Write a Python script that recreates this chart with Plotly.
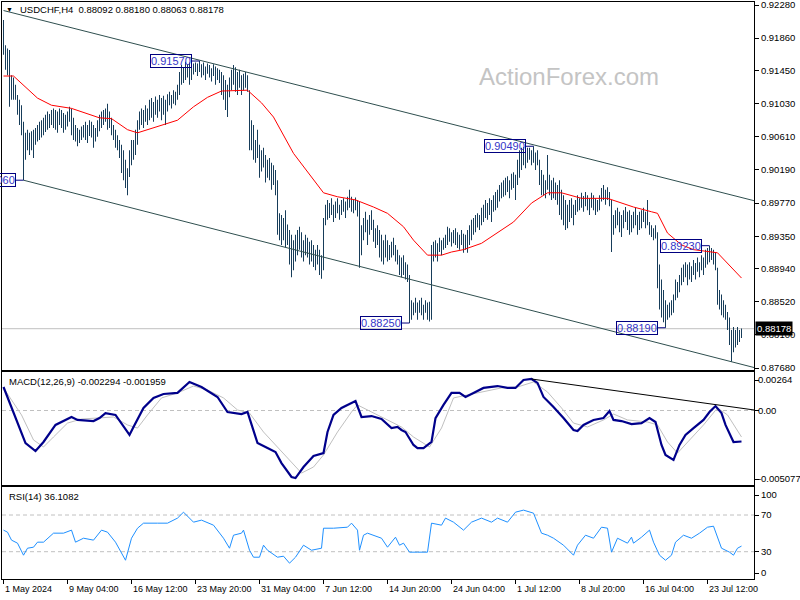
import plotly.graph_objects as go

# ---------------- data ----------------
# H4 bars (prices in pips, 1 pip = 0.0001), index 0 = 1 May 20:00
HIGH_PIPS = [
    9209,9177,9173,9171,9139,9136,9127,9114,9108,9101,
    9080,9066,9070,9066,9068,9070,9072,9076,9080,9082,
    9085,9089,9093,9090,9095,9097,9095,9093,9097,9095,
    9091,9089,9093,9099,9097,9085,9076,9072,9070,9074,
    9076,9080,9076,9082,9080,9076,9072,9082,9089,9093,
    9095,9097,9103,9093,9085,9076,9070,9063,9057,9051,
    9044,9032,9021,9044,9057,9057,9070,9082,9093,9097,
    9095,9101,9097,9108,9110,9105,9112,9108,9114,9110,
    9113,9108,9115,9118,9114,9120,9118,9127,9143,9152,
    9149,9156,9153,9155,9154,9154,9155,9154,9157,9153,
    9155,9150,9154,9152,9148,9153,9150,9148,9146,9143,
    9139,9133,9127,9136,9146,9152,9149,9143,9146,9139,
    9141,9143,9139,9120,9082,9076,9057,9070,9051,9044,
    9047,9038,9032,9034,9028,9025,9019,9006,8964,8962,
    8958,8968,8950,8943,8937,8930,8937,8943,8947,8940,
    8930,8937,8933,8928,8930,8924,8918,8924,8918,8911,
    8958,8975,8981,8977,8983,8975,8979,8983,8975,8981,
    8983,8979,8985,8994,8985,8981,8984,8981,8979,8949,
    8958,8966,8956,8962,8968,8956,8945,8949,8943,8937,
    8930,8937,8930,8924,8928,8933,8924,8918,8911,8908,
    8911,8902,8899,8886,8854,8851,8857,8851,8854,8857,
    8848,8854,8851,8852,8924,8928,8930,8926,8933,8930,
    8933,8937,8947,8945,8940,8943,8945,8940,8937,8943,
    8938,8937,8943,8949,8956,8958,8962,8964,8962,8971,
    8975,8981,8977,8983,8981,8987,8991,8994,9000,9003,
    9006,9009,9011,9006,9014,9016,9013,9032,9044,9047,
    9048,9044,9047,9047,9044,9049,9041,9044,9032,9019,
    9013,9006,9038,9013,9006,9009,9003,9000,9006,8994,
    8987,8981,8975,8981,8983,8975,8981,8987,8983,8990,
    8986,8991,8987,8983,8990,8987,8983,8981,8987,8996,
    9000,8994,8997,8991,8981,8962,8968,8971,8966,8962,
    8968,8972,8966,8968,8962,8966,8971,8962,8966,8968,
    8971,8966,8981,8953,8949,8945,8949,8940,8899,8880,
    8867,8854,8848,8851,8854,8861,8880,8877,8886,8895,
    8899,8902,8899,8902,8897,8905,8901,8908,8902,8911,
    8908,8918,8920,8923,8920,8918,8915,8895,8867,8861,
    8854,8848,8839,8832,8816,8820,8816,8820,8816,8818,
]
LOW_PIPS = [
    9165,9146,9139,9099,9108,9108,9108,9089,9076,9063,
    9006,9032,9044,9038,9044,9034,9051,9055,9057,9060,
    9063,9067,9070,9072,9076,9072,9070,9066,9076,9072,
    9066,9070,9074,9080,9063,9057,9055,9049,9053,9057,
    9060,9057,9053,9062,9060,9047,9055,9061,9068,9072,
    9076,9080,9070,9072,9063,9057,9047,9044,9034,9015,
    9006,8996,8987,9010,9025,9032,9038,9051,9070,9076,
    9072,9080,9076,9082,9085,9080,9089,9085,9093,9082,
    9089,9076,9093,9101,9097,9103,9101,9108,9114,9127,
    9129,9133,9136,9127,9133,9140,9143,9138,9143,9136,
    9139,9133,9141,9136,9131,9138,9127,9133,9129,9114,
    9108,9095,9086,9111,9120,9127,9118,9114,9123,9114,
    9120,9123,9118,9044,9044,9032,9028,9034,9009,9017,
    9022,9003,9009,9006,8994,9000,8987,8937,8930,8924,
    8930,8921,8924,8899,8883,8892,8903,8911,8918,8908,
    8903,8911,8908,8899,8903,8896,8892,8899,8886,8881,
    8892,8949,8956,8958,8962,8953,8958,8964,8956,8962,
    8966,8958,8968,8971,8966,8964,8968,8960,8895,8911,
    8930,8940,8924,8937,8943,8928,8920,8924,8908,8903,
    8899,8908,8903,8905,8908,8911,8903,8899,8886,8883,
    8886,8880,8877,8825,8829,8835,8838,8829,8838,8835,
    8829,8838,8829,8827,8829,8903,8908,8903,8915,8911,
    8918,8920,8924,8928,8922,8926,8924,8920,8918,8924,
    8914,8918,8914,8924,8930,8937,8940,8946,8943,8949,
    8953,8958,8956,8962,8953,8966,8968,8971,8979,8983,
    8985,8987,8991,8983,8994,8996,8981,9000,9009,9019,
    9025,9021,9028,9032,9025,9028,9019,9025,9000,8987,
    8987,8983,8994,8987,8981,8983,8981,8975,8962,8956,
    8949,8943,8945,8953,8958,8949,8962,8966,8968,8971,
    8966,8973,8968,8962,8971,8968,8962,8966,8968,8979,
    8981,8975,8981,8973,8915,8937,8945,8949,8940,8934,
    8945,8953,8943,8937,8940,8945,8949,8937,8943,8945,
    8953,8945,8949,8937,8934,8930,8932,8869,8842,8832,
    8826,8819,8829,8832,8835,8838,8854,8857,8864,8873,
    8877,8883,8873,8880,8877,8886,8880,8890,8883,8892,
    8886,8895,8899,8902,8905,8899,8892,8848,8842,8835,
    8832,8829,8816,8797,8776,8788,8794,8797,8801,8806,
]

# moving average (red), read at sample bars
MA_I = [0, 5, 17, 24, 34, 48, 54, 62, 67, 72, 79, 87, 95, 102, 109, 122, 129, 135,
        145, 155, 160, 167, 176, 185, 192, 200, 205, 212, 219, 224, 230, 239, 247,
        255, 264, 272, 279, 289, 302, 309, 315, 324, 327, 332, 339, 345, 357, 369]
MA_PIPS = [9138, 9138, 9110, 9101, 9097, 9085, 9084, 9070, 9066, 9070, 9076, 9082, 9099,
           9111, 9119, 9120, 9104, 9086, 9040, 9006, 8990, 8985, 8981, 8972, 8964, 8947,
           8930, 8911, 8911, 8915, 8918, 8926, 8939, 8953, 8977, 8990, 8990, 8983, 8983,
           8977, 8972, 8966, 8964, 8939, 8924, 8918, 8914, 8882]

# MACD(12,26,9) main line
MACD_I = [0, 5, 11, 16, 20, 26, 34, 37, 45, 48, 51, 56, 63, 65, 70, 75, 80, 87, 93, 99,
          107, 112, 119, 122, 127, 132, 136, 139, 144, 146, 150, 155, 160, 162, 165, 169,
          173, 176, 179, 184, 189, 194, 197, 199, 201, 205, 207, 210, 214, 216, 220, 224,
          228, 231, 235, 240, 247, 252, 256, 260, 264, 267, 270, 275, 280, 285, 287, 290,
          295, 300, 303, 305, 309, 314, 319, 323, 326, 329, 331, 335, 338, 341, 345, 350,
          353, 356, 359, 361, 365, 369]
MACD_V = [0.00174, -0.00011, -0.00241, -0.00300, -0.00233, -0.00107, -0.00048, -0.00070,
          -0.00078, -0.00056, -0.00019, -0.00033, -0.00181, -0.00122, 0.00019, 0.00093,
          0.00122, 0.00130, 0.00211, 0.00174, 0.00100, -0.00011, -0.00026, -0.00011,
          -0.00241, -0.00278, -0.00307, -0.00389, -0.00492, -0.00500, -0.00418, -0.00337,
          -0.00315, -0.00159, -0.00033, 0.00019, 0.00048, 0.00070, -0.00048, -0.00041,
          -0.00063, -0.00130, -0.00122, -0.00144, -0.00159, -0.00255, -0.00278, -0.00278,
          -0.00233, -0.00056, 0.00041, 0.00130, 0.00130, 0.00100, 0.00130, 0.00167,
          0.00181, 0.00167, 0.00167, 0.00226, 0.00233, 0.00204, 0.00100, 0.00026,
          -0.00056, -0.00144, -0.00152, -0.00107, -0.00070, -0.00056, -0.00004, -0.00070,
          -0.00078, -0.00100, -0.00093, -0.00056, -0.00085, -0.00255, -0.00329, -0.00366,
          -0.00255, -0.00181, -0.00130, -0.00070, -0.00011, 0.00033, -0.00019, -0.00107,
          -0.00233, -0.002294]

# MACD signal line
SIG_I = [0, 9, 15, 20, 25, 32, 39, 49, 55, 62, 67, 72, 79, 87, 95, 102, 110, 117, 123,
         130, 137, 144, 149, 155, 160, 167, 174, 177, 182, 190, 197, 199, 205, 213, 219,
         225, 232, 239, 249, 257, 265, 272, 279, 285, 292, 300, 305, 312, 322, 327, 332,
         337, 344, 350, 357, 362, 369]
SIG_V = [0.00167, -0.00033, -0.00218, -0.00270, -0.00196, -0.00093, -0.00063, -0.00056,
         -0.00048, -0.00107, -0.00130, -0.00033, 0.00093, 0.00130, 0.00181, 0.00152,
         0.00093, 0.00004, -0.00019, -0.00159, -0.00270, -0.00381, -0.00463, -0.00418,
         -0.00329, -0.00159, -0.00011, 0.00041, 0.00004, -0.00056, -0.00107, -0.00122,
         -0.00196, -0.00270, -0.00130, 0.00093, 0.00115, 0.00137, 0.00167, 0.00174,
         0.00211, 0.00137, 0.00019, -0.00093, -0.00122, -0.00070, -0.00026, -0.00070,
         -0.00085, -0.00107, -0.00233, -0.00315, -0.00204, -0.00107, 0.00019, -0.00033,
         -0.001959]

# RSI(14)
RSI_I = [0, 2, 4, 7, 10, 12, 15, 17, 20, 25, 30, 34, 36, 40, 45, 49, 52, 56, 61, 64, 67,
         70, 77, 82, 87, 90, 95, 99, 105, 110, 113, 115, 119, 120, 123, 125, 128, 130,
         132, 137, 140, 143, 146, 150, 154, 159, 160, 165, 172, 174, 177, 178, 180, 182,
         189, 192, 196, 198, 200, 203, 207, 212, 214, 219, 221, 225, 230, 234, 239, 244,
         247, 252, 256, 260, 265, 269, 272, 275, 280, 285, 287, 291, 295, 299, 302, 304,
         307, 312, 314, 315, 319, 323, 325, 328, 331, 334, 336, 340, 344, 348, 352, 355,
         359, 363, 365, 367, 369]
RSI_V = [53.5, 51.3, 42.6, 39.3, 26.2, 33.8, 34.9, 40.4, 40.4, 50.2, 50.2, 53.5, 40.4,
         44.7, 42.6, 53.5, 51.3, 40.4, 20.7, 44.7, 55.6, 61.1, 61.1, 61.1, 66.6, 73.1,
         62.2, 64.4, 58.9, 44.7, 33.8, 48.0, 50.2, 53.5, 31.6, 24.0, 24.0, 37.1, 31.6,
         24.0, 25.1, 17.5, 24.0, 37.1, 31.6, 33.8, 55.6, 55.6, 56.7, 61.1, 53.5, 31.6,
         48.0, 50.2, 44.7, 34.9, 45.8, 37.1, 39.3, 29.5, 29.5, 29.5, 61.1, 58.9, 66.6,
         62.2, 53.5, 62.2, 66.6, 62.2, 66.6, 62.2, 73.1, 75.3, 72.0, 50.2, 48.0, 44.7,
         37.1, 26.2, 37.1, 48.0, 44.7, 56.7, 55.6, 29.5, 44.7, 39.3, 45.8, 39.3, 45.8,
         53.5, 40.4, 26.2, 20.7, 26.2, 40.4, 48.0, 44.7, 50.2, 56.7, 57.8, 33.8, 29.5,
         26.2, 33.8, 36.1082]

# trend lines (bar index, value)
TOP_TL_I, TOP_TL_P = [0, 375.25], [0.92210, 0.89800]
BOT_TL_I, BOT_TL_P = [10, 375.25], [0.90060, 0.87686]
MACD_TL_I, MACD_TL_V = [264, 375.25], [0.00233, 0.00004]

# swing labels
SWING_I = [10, 98, 203, 265, 331, 353]
SWING_P = [0.90060, 0.91570, 0.88250, 0.90490, 0.88190, 0.89230]
SWING_T = ["0.90060", "0.91570", "0.88250", "0.90490", "0.88190", "0.89230"]

LAST_PRICE = 0.88178
PRICE_TICKS = [0.92280, 0.91860, 0.91450, 0.91030, 0.90610, 0.90190, 0.89770,
               0.89350, 0.88940, 0.88520, 0.88100, 0.87680]
TIME_TICK_I = [0, 32, 64, 96, 128, 160, 192, 224, 256, 288, 320, 352]
TIME_TICK_T = ["1 May 2024", "9 May 04:00", "16 May 12:00", "23 May 20:00",
               "31 May 04:00", "7 Jun 12:00", "14 Jun 20:00", "24 Jun 04:00",
               "1 Jul 12:00", "8 Jul 20:00", "16 Jul 04:00", "23 Jul 12:00"]

TITLE = "USDCHF,H4  0.88092 0.88180 0.88063 0.88178"
MACD_TITLE = "MACD(12,26,9) -0.002294 -0.001959"
RSI_TITLE = "RSI(14) 36.1082"

# ---------------- figure ----------------
FONT = "Liberation Sans, Arial, sans-serif"
W, H = 800, 600
ML, MR, MT, MB = 2, 46, 2, 21
PW, PH = W - ML - MR, H - MT - MB


def px_x(px):
    return (px - ML) / PW


def px_y(py):
    return (H - MB - py) / PH


high = [v / 10000 for v in HIGH_PIPS]
low = [v / 10000 for v in LOW_PIPS]
n = len(high)
idx = list(range(n))

BAR_COL = "#173d5a"
XR = [-0.75, 375.25]

fig = go.Figure()

fig.add_trace(go.Bar(x=idx, base=low, y=[h - l for h, l in zip(high, low)], width=0.5,
                     marker=dict(color=BAR_COL, line=dict(width=0)),
                     xaxis="x", yaxis="y", hoverinfo="skip"))
fig.add_trace(go.Scatter(x=MA_I, y=[v / 10000 for v in MA_PIPS], mode="lines",
                         line=dict(color="#ff0000", width=1), xaxis="x", yaxis="y"))
fig.add_trace(go.Scatter(x=TOP_TL_I, y=TOP_TL_P, mode="lines",
                         line=dict(color="#2f4f4f", width=1), xaxis="x", yaxis="y"))
fig.add_trace(go.Scatter(x=BOT_TL_I, y=BOT_TL_P, mode="lines",
                         line=dict(color="#2f4f4f", width=1), xaxis="x", yaxis="y"))

# swing connectors
for i, p in zip(SWING_I, SWING_P):
    fig.add_trace(go.Scatter(x=[i - 4, i], y=[p, p], mode="lines",
                             line=dict(color="#000080", width=1), xaxis="x", yaxis="y"))

# MACD
fig.add_trace(go.Scatter(x=SIG_I, y=SIG_V, mode="lines",
                         line=dict(color="#c0c0c0", width=1), xaxis="x2", yaxis="y2"))
fig.add_trace(go.Scatter(x=MACD_I, y=MACD_V, mode="lines",
                         line=dict(color="#00008b", width=2.2), xaxis="x2", yaxis="y2"))
fig.add_trace(go.Scatter(x=MACD_TL_I, y=MACD_TL_V, mode="lines",
                         line=dict(color="#000000", width=1), xaxis="x2", yaxis="y2"))

# RSI
fig.add_trace(go.Scatter(x=RSI_I, y=RSI_V, mode="lines",
                         line=dict(color="#1e90ff", width=1), xaxis="x3", yaxis="y3"))

main_dom = [px_y(370), 1.0]
macd_dom = [px_y(485), px_y(372)]
rsi_dom = [0.0, px_y(487)]

axcommon = dict(showline=True, linecolor="black", linewidth=1, mirror=True,
                showgrid=False, zeroline=False, automargin=False)
xcommon = dict(axcommon, range=XR, showticklabels=False, ticks="")

# MACD scale: 0 at y=410.5, 13514 px per unit
macd_top = (410.5 - 372) / 13514
macd_bot = (410.5 - 485) / 13514
# RSI scale: 70 at y=515, 30 at y=551.7
rsi_k = (551.7 - 515) / 40.0
rsi_lo = 30 - (579 - 551.7) / rsi_k
rsi_hi = 30 + (551.7 - 487) / rsi_k

TICKFONT = dict(size=9.5, family=FONT, color="black")

fig.update_layout(
    width=W, height=H, template="none",
    margin=dict(l=ML, r=MR, t=MT, b=MB),
    paper_bgcolor="white", plot_bgcolor="white",
    showlegend=False, barmode="overlay",
    font=dict(family=FONT, size=9.5, color="black"),
    xaxis=dict(xcommon, domain=[0, 1], anchor="y"),
    xaxis2=dict(xcommon, domain=[0, 1], anchor="y2", matches="x"),
    xaxis3=dict(axcommon, domain=[0, 1], anchor="y3", matches="x", range=XR,
                tickvals=TIME_TICK_I, showticklabels=False, ticks="outside",
                ticklen=4, tickcolor="black"),
    yaxis=dict(axcommon, domain=main_dom, anchor="x", side="right",
               range=[0.87680 - 2 / 7891, 0.92280 + 3 / 7891],
               tickvals=PRICE_TICKS, ticktext=[f"{v:.5f}" for v in PRICE_TICKS],
               ticks="outside", ticklen=4, tickcolor="black", tickfont=TICKFONT,
               ticklabeloverflow="allow"),
    yaxis2=dict(axcommon, domain=macd_dom, anchor="x2", side="right",
                range=[macd_bot, macd_top],
                tickvals=[(410.5 - 380) / 13514, 0.0, -0.005077],
                ticktext=["0.00264", "0.00", "-0.005077"],
                ticks="outside", ticklen=4, tickcolor="black", tickfont=TICKFONT,
                ticklabelstandoff=-3, ticklabeloverflow="allow"),
    yaxis3=dict(axcommon, domain=rsi_dom, anchor="x3", side="right",
                range=[rsi_lo, rsi_hi],
                tickvals=[30 + (551.7 - 495) / rsi_k, 70, 30, 30 - (573 - 551.7) / rsi_k],
                ticktext=["100", "70", "30", "0"],
                ticks="outside", ticklen=4, tickcolor="black", tickfont=TICKFONT,
                ticklabeloverflow="allow"),
)

shapes = [
    dict(type="line", xref="paper", x0=0, x1=1, yref="y", y0=LAST_PRICE, y1=LAST_PRICE,
         line=dict(color="#c0c0c0", width=1), layer="below"),
    dict(type="line", xref="paper", x0=0, x1=1, yref="y2", y0=0, y1=0,
         line=dict(color="#c0c0c0", width=1, dash="4px,3px"), layer="below"),
    dict(type="line", xref="paper", x0=0, x1=1, yref="y3", y0=70, y1=70,
         line=dict(color="#c0c0c0", width=1, dash="4px,3px"), layer="below"),
    dict(type="line", xref="paper", x0=0, x1=1, yref="y3", y0=30, y1=30,
         line=dict(color="#c0c0c0", width=1, dash="4px,3px"), layer="below"),
]
fig.update_layout(shapes=shapes)

ann = []
# watermark
ann.append(dict(text="ActionForex.com", xref="paper", yref="paper", x=px_x(569), y=px_y(76),
                xanchor="center", yanchor="middle", showarrow=False,
                font=dict(size=24, color="#c4c4c4", family=FONT)))
# titles
ann.append(dict(text="▼", xref="paper", yref="paper", x=px_x(9), y=px_y(10),
                xanchor="center", yanchor="middle", showarrow=False,
                font=dict(size=7, color="black")))
ann.append(dict(text=TITLE, xref="paper", yref="paper", x=px_x(18), y=px_y(10),
                xanchor="left", yanchor="middle", showarrow=False,
                font=dict(size=9.5, color="black")))
ann.append(dict(text=MACD_TITLE, xref="paper", yref="paper", x=px_x(7), y=px_y(381),
                xanchor="left", yanchor="middle", showarrow=False,
                font=dict(size=9.5, color="black")))
ann.append(dict(text=RSI_TITLE, xref="paper", yref="paper", x=px_x(7), y=px_y(496),
                xanchor="left", yanchor="middle", showarrow=False,
                font=dict(size=9.5, color="black")))
# swing labels
for i, p, t in zip(SWING_I, SWING_P, SWING_T):
    ann.append(dict(text=t, x=i, y=p, xref="x", yref="y", xanchor="right", yanchor="middle",
                    xshift=-8, showarrow=False, bordercolor="#000080", borderwidth=1,
                    borderpad=0, font=dict(size=11, color="#3535c8", family=FONT)))
# last price tag
ann.append(dict(text=f"{LAST_PRICE:.5f}", xref="paper", yref="y", x=1, y=LAST_PRICE,
                xanchor="left", yanchor="middle", xshift=1, showarrow=False,
                bgcolor="black", borderpad=1, font=dict(size=9.5, color="white")))
# time labels
for i, t in zip(TIME_TICK_I, TIME_TICK_T):
    ann.append(dict(text=t, x=i, y=px_y(589), xref="x3", yref="paper", xanchor="left",
                    yanchor="middle", xshift=-1, showarrow=False,
                    font=dict(size=9, color="black")))
fig.update_layout(annotations=ann)

fig.write_html("out.html", config={"displayModeBar": False},
               post_script="document.body.style.margin='0px';document.body.style.overflow='hidden';")
